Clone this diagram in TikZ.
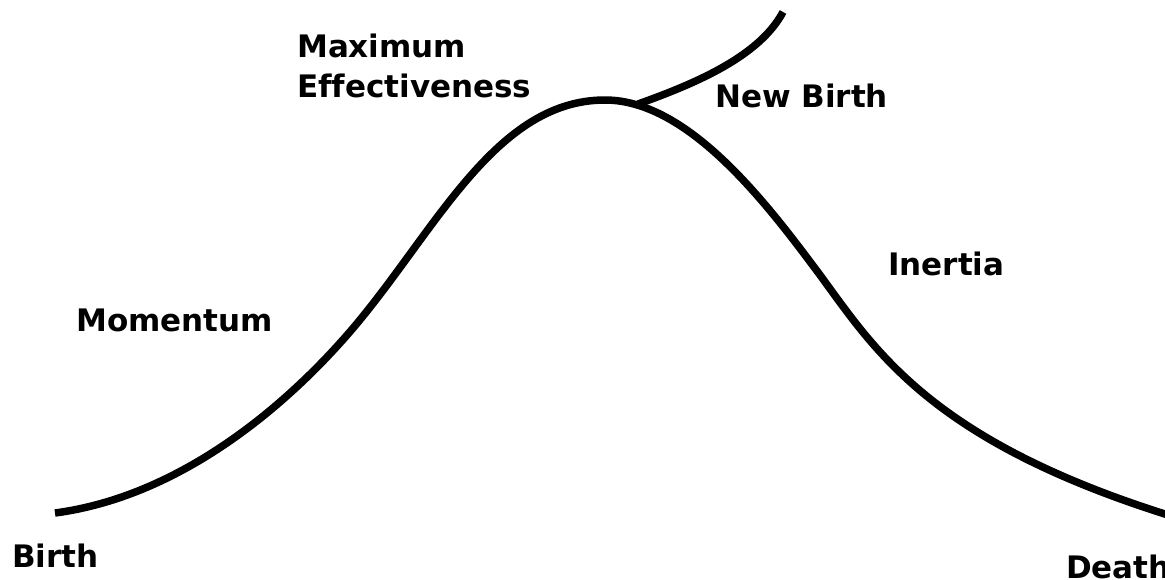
\documentclass[tikz,border=0pt]{standalone}
\usepackage{fontspec}
\setmainfont{DejaVu Sans}[Ligatures=NoCommon]
\usepackage{tikz}

\tikzset{
  lbl/.style={anchor=base west, inner sep=0pt, font=\bfseries\fontsize{31}{40}\selectfont},
  life/.style={line width=7.5pt, line cap=butt, line join=round}
}

\begin{document}
\begin{tikzpicture}[x=1pt, y=-1pt]
  \useasboundingbox (0,0) rectangle (1165,579);
  % the life cycle curve
  \draw[life] (55,513) .. controls (190,495) and (295,393) .. (340,343)
    .. controls (430,244) and (490,100) .. (605,100)
    .. controls (690,100) and (770,208) .. (820,275)
    .. controls (875,350) and (930,440) .. (1168,515);
  % branch to a new birth
  \draw[life] (638,104) .. controls (700,82) and (760,55) .. (783,12);
  \node[lbl] (maxeff) at (297,57) {Maximum};
  \node[lbl] (maxeff2) at (297,97) {Effectiveness};
  \node[lbl] (newbirth) at (715,107) {New Birth};
  \node[lbl] (inertia) at (888,275) {Inertia};
  \node[lbl] (momentum) at (76,331) {Momentum};
  \node[lbl] (birth) at (12,567) {Birth};
  \node[lbl] (death) at (1066,578) {Death};
\end{tikzpicture}
\end{document}
